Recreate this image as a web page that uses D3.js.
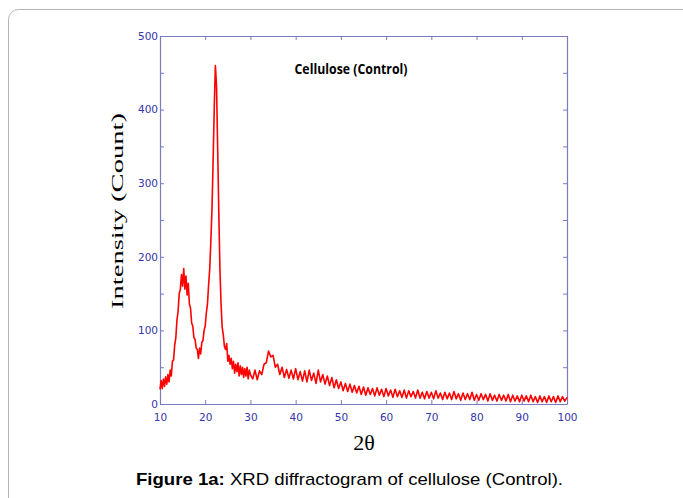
<!DOCTYPE html>
<html>
<head>
<meta charset="utf-8">
<script src="https://cdn.jsdelivr.net/npm/d3@7"></script>
<style>
  body { margin: 0; background: #fff; }
</style>
</head>
<body>
<svg id="plot"></svg>
<script>
// 2theta grid: fine steps over the low-angle peaks, coarser afterwards
var lowStart = 10, lowStep = 0.25;
var lowCounts = [20, 32, 21, 34, 24, 37, 27, 40, 30,
  46, 38, 58, 60, 80, 90, 114, 126,
  150, 156, 176, 160, 184, 156, 174, 148,
  164, 136, 130, 110, 106, 90, 88, 76,
  74, 62, 76, 68, 84, 86, 100, 106,
  124, 136, 162, 184, 222, 266, 332, 404,
  460, 432, 348, 262, 184, 136, 104, 94,
  78, 74, 82, 58, 66, 54, 62, 48,
  58, 42, 54, 44, 56, 38, 52, 40,
  50, 36, 48, 38, 50, 34, 46, 40];

var highStart = 30.5, highStep = 0.5;
var highCounts = [34, 46, 33, 45, 40, 54, 56, 72, 64, 66,
  50, 54, 40, 50, 36, 47, 35, 46, 34, 48,
  33, 44, 31, 45, 30, 46, 32, 42, 28, 46,
  30, 40, 27, 38, 25, 36, 22, 33, 21, 30,
  18, 28, 17, 27, 16, 25, 15, 24, 13, 23,
  12, 22, 13, 21, 11, 22, 12, 20, 10, 21,
  11, 19, 9, 20, 10, 18, 9, 19, 8, 18,
  10, 17, 8, 19, 8, 16, 7, 17, 8, 16,
  7, 18, 8, 15, 6, 16, 7, 15, 6, 17,
  7, 14, 5, 15, 6, 14, 6, 16, 5, 13,
  5, 14, 6, 13, 4, 14, 5, 12, 4, 13,
  5, 12, 4, 13, 3, 12, 4, 11, 3, 12,
  4, 11, 3, 12, 3, 10, 2, 11, 3, 10,
  2, 11, 3, 10, 2, 11, 3, 10, 4, 9];

var xTicks = [10, 20, 30, 40, 50, 60, 70, 80, 90, 100];
var yTicks = [0, 50, 100, 150, 200, 250, 300, 350, 400, 450, 500];
var yLabels = [0, 100, 200, 300, 400, 500];

var data = lowCounts.map(function(c, i) { return [lowStart + i * lowStep, c]; })
  .concat(highCounts.map(function(c, i) { return [highStart + i * highStep, c]; }));

var svg = d3.select("#plot").attr("width", 683).attr("height", 498);

// outer frame
svg.append("rect")
  .attr("x", 8.5).attr("y", 9.5)
  .attr("width", 690).attr("height", 520)
  .attr("rx", 10)
  .attr("fill", "none")
  .attr("stroke", "#b4b4b4");

var margin = {top: 36, left: 160},
  width = 407,
  height = 368;

var g = svg.append("g")
  .attr("transform", "translate(" + margin.left + "," + margin.top + ")");

var x = d3.scaleLinear().domain([10, 100]).range([0, width]);
var y = d3.scaleLinear().domain([0, 500]).range([height, 0]);

var axisColor = "#7b7bc0", labelColor = "#3535a8";

// axes with inward ticks on all four sides
var axBottom = g.append("g")
  .attr("transform", "translate(0," + height + ")")
  .call(d3.axisBottom(x).tickValues(xTicks).tickSizeInner(-4).tickSizeOuter(0).tickPadding(10));
var axTop = g.append("g")
  .call(d3.axisTop(x).tickValues(xTicks).tickSizeInner(-4).tickSizeOuter(0).tickFormat(""));
var axLeft = g.append("g")
  .call(d3.axisLeft(y).tickValues(yTicks).tickSizeInner(-4).tickSizeOuter(0).tickPadding(2)
    .tickFormat(function(d) { return yLabels.indexOf(d) >= 0 ? d : ""; }));
var axRight = g.append("g")
  .attr("transform", "translate(" + width + ",0)")
  .call(d3.axisRight(y).tickValues(yTicks).tickSizeInner(-4).tickSizeOuter(0).tickFormat(""));

[axBottom, axTop, axLeft, axRight].forEach(function(a) {
  a.select(".domain").attr("stroke", axisColor).attr("stroke-width", 1.2);
  a.selectAll(".tick line").attr("stroke", axisColor);
  a.selectAll(".tick text")
    .attr("fill", labelColor)
    .attr("font-family", "DejaVu Sans")
    .attr("font-size", 10.5);
});

// diffractogram trace
g.append("path")
  .datum(data)
  .attr("fill", "none")
  .attr("stroke", "#ff0000")
  .attr("stroke-width", 1.6)
  .attr("stroke-linejoin", "round")
  .attr("d", d3.line()
    .x(function(d) { return x(d[0]); })
    .y(function(d) { return y(d[1]); }));

// titles
svg.append("text")
  .attr("x", 351).attr("y", 74)
  .attr("text-anchor", "middle")
  .attr("font-family", "Open Sans")
  .attr("font-weight", "bold")
  .attr("font-size", 13.5)
  .attr("textLength", 113).attr("lengthAdjust", "spacingAndGlyphs")
  .text("Cellulose (Control)");

svg.append("text")
  .attr("transform", "translate(123,211) rotate(-90)")
  .attr("text-anchor", "middle")
  .attr("font-family", "Liberation Serif")
  .attr("font-size", 17)
  .attr("textLength", 196).attr("lengthAdjust", "spacingAndGlyphs")
  .text("Intensity (Count)");

svg.append("text")
  .attr("x", 364).attr("y", 450)
  .attr("text-anchor", "middle")
  .attr("font-family", "Liberation Serif")
  .attr("font-size", 22)
  .text("2θ");

var cap = svg.append("text")
  .attr("x", 136).attr("y", 485)
  .attr("font-family", "Liberation Sans")
  .attr("font-size", 17)
  .attr("textLength", 427).attr("lengthAdjust", "spacingAndGlyphs");
cap.append("tspan").attr("font-weight", "bold").text("Figure 1a:");
cap.append("tspan").text(" XRD diffractogram of cellulose (Control).");
</script>
</body>
</html>
